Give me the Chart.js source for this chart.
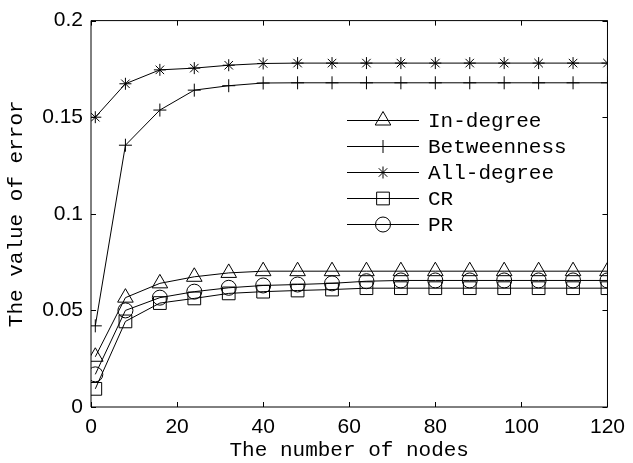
<!DOCTYPE html>
<html>
<head>
<meta charset="utf-8">
<script src="https://cdn.jsdelivr.net/npm/chart.js@4"></script>
<style>
  html, body { margin: 0; padding: 0; background: #fff; }
  #wrap { width: 633px; height: 463px; }
</style>
</head>
<body>
<div id="wrap"><canvas id="errChart" width="633" height="463"></canvas></div>
<script>
// number of nodes
const nodes = [1, 8, 16, 24, 32, 40, 48, 56, 64, 72, 80, 88, 96, 104, 112, 120];

// error values
const inDegree    = [0.026, 0.0566, 0.064, 0.0674, 0.0694, 0.0703, 0.0703, 0.0703, 0.0703, 0.0703, 0.0703, 0.0703, 0.0703, 0.0703, 0.0703, 0.0703];
const betweenness = [0.042, 0.1355, 0.1537, 0.164, 0.1663, 0.1677, 0.1678, 0.1678, 0.1678, 0.1678, 0.1678, 0.1678, 0.1678, 0.1678, 0.1678, 0.1678];
const allDegree   = [0.150, 0.1673, 0.1745, 0.1754, 0.1769, 0.1778, 0.1780, 0.1780, 0.1780, 0.1780, 0.1780, 0.1780, 0.1780, 0.1780, 0.1780, 0.1780];
const crVals      = [0.0094, 0.0443, 0.0538, 0.0562, 0.0588, 0.0597, 0.0603, 0.0608, 0.0615, 0.0615, 0.0615, 0.0615, 0.0615, 0.0615, 0.0615, 0.0615];
const prVals      = [0.0169, 0.050, 0.0566, 0.0597, 0.0617, 0.0629, 0.0634, 0.064, 0.0651, 0.0655, 0.0655, 0.0655, 0.0655, 0.0655, 0.0655, 0.0655];

const xTicks = [0, 20, 40, 60, 80, 100, 120];
const yTicks = [0, 0.05, 0.1, 0.15, 0.2];

const mono = "'Liberation Mono', 'Courier New', monospace";
const sans = "'Liberation Sans', Arial, sans-serif";

const toPts = (ys) => ys.map((y, i) => ({ x: nodes[i], y: y }));

const series = [
    { label: 'In-degree',   data: inDegree,    style: 'triangle', r: 9 },
    { label: 'Betweenness', data: betweenness, style: 'cross',    r: 6.5 },
    { label: 'All-degree',  data: allDegree,   style: 'star',     r: 6 },
    { label: 'CR',          data: crVals,      style: 'rect',     r: 9 },
    { label: 'PR',          data: prVals,      style: 'circle',   r: 7.5 }
];

// frame, inward ticks and the line+marker legend
const matlabLook = {
    id: 'matlabLook',
    afterDatasetsDraw(chart) {
        const ctx = chart.ctx;
        const a = chart.chartArea;
        const xs = chart.scales.x, ys = chart.scales.y;
        ctx.save();
        ctx.strokeStyle = '#000';
        ctx.lineWidth = 1;
        ctx.beginPath();
        ctx.rect(a.left, a.top, a.right - a.left, a.bottom - a.top);
        ctx.stroke();
        const tl = 5;
        ctx.beginPath();
        xTicks.forEach(v => {
            const px = Math.round(xs.getPixelForValue(v)) + 0.5;
            ctx.moveTo(px, a.bottom); ctx.lineTo(px, a.bottom - tl);
            ctx.moveTo(px, a.top); ctx.lineTo(px, a.top + tl);
        });
        yTicks.forEach(v => {
            const py = Math.round(ys.getPixelForValue(v)) + 0.5;
            ctx.moveTo(a.left, py); ctx.lineTo(a.left + tl, py);
            ctx.moveTo(a.right, py); ctx.lineTo(a.right - tl, py);
        });
        ctx.stroke();

        // legend
        const lx0 = 347, lx1 = 419, mx = 383, tx = 428;
        const rowY = [120, 146, 172, 198, 224];
        ctx.font = '21px ' + mono;
        ctx.textBaseline = 'middle';
        series.forEach((s, i) => {
            const y = rowY[i] + 0.5;
            ctx.beginPath();
            ctx.moveTo(lx0, y); ctx.lineTo(lx1, y);
            ctx.stroke();
            ctx.fillStyle = 'rgba(0,0,0,0)';
            Chart.helpers.drawPoint(ctx, { pointStyle: s.style, radius: s.r, rotation: 0, borderWidth: 1 }, mx, y);
            ctx.fillStyle = '#000';
            ctx.fillText(s.label, tx, rowY[i] + 1);
        });
        ctx.restore();
    }
};

new Chart(document.getElementById('errChart'), {
    type: 'line',
    data: {
        datasets: series.map(s => ({
            label: s.label,
            data: toPts(s.data),
            borderColor: '#000',
            borderWidth: 1,
            backgroundColor: 'rgba(0,0,0,0)',
            pointStyle: s.style,
            pointRadius: s.r,
            pointBorderColor: '#000',
            pointBackgroundColor: 'rgba(0,0,0,0)',
            pointBorderWidth: 1,
            tension: 0,
            fill: false
        }))
    },
    options: {
        responsive: false,
        animation: false,
        layout: { padding: { top: 17, right: 20, left: 0, bottom: 0 } },
        plugins: {
            legend: { display: false },
            tooltip: { enabled: false }
        },
        scales: {
            x: {
                type: 'linear',
                min: 0, max: 120,
                afterFit: (s) => { s.height = 56; },
                afterBuildTicks: (s) => { s.ticks = xTicks.map(v => ({ value: v })); },
                grid: { display: false, drawTicks: false },
                border: { display: false },
                ticks: { color: '#000', padding: 8, font: { family: sans, size: 21 } },
                title: { display: true, text: 'The number of nodes', color: '#000', padding: { top: 0, bottom: 0 }, font: { family: mono, size: 21 } }
            },
            y: {
                min: 0, max: 0.2,
                afterFit: (s) => { s.width = 91; },
                afterBuildTicks: (s) => { s.ticks = yTicks.map(v => ({ value: v })); },
                grid: { display: false, drawTicks: false },
                border: { display: false },
                ticks: {
                    color: '#000', padding: 8, font: { family: sans, size: 21 },
                    callback: (v) => String(+Number(v).toFixed(2))
                },
                title: { display: true, text: 'The value of error', color: '#000', padding: { top: 4, bottom: 0 }, font: { family: mono, size: 21 } }
            }
        }
    },
    plugins: [matlabLook]
});
</script>
</body>
</html>
